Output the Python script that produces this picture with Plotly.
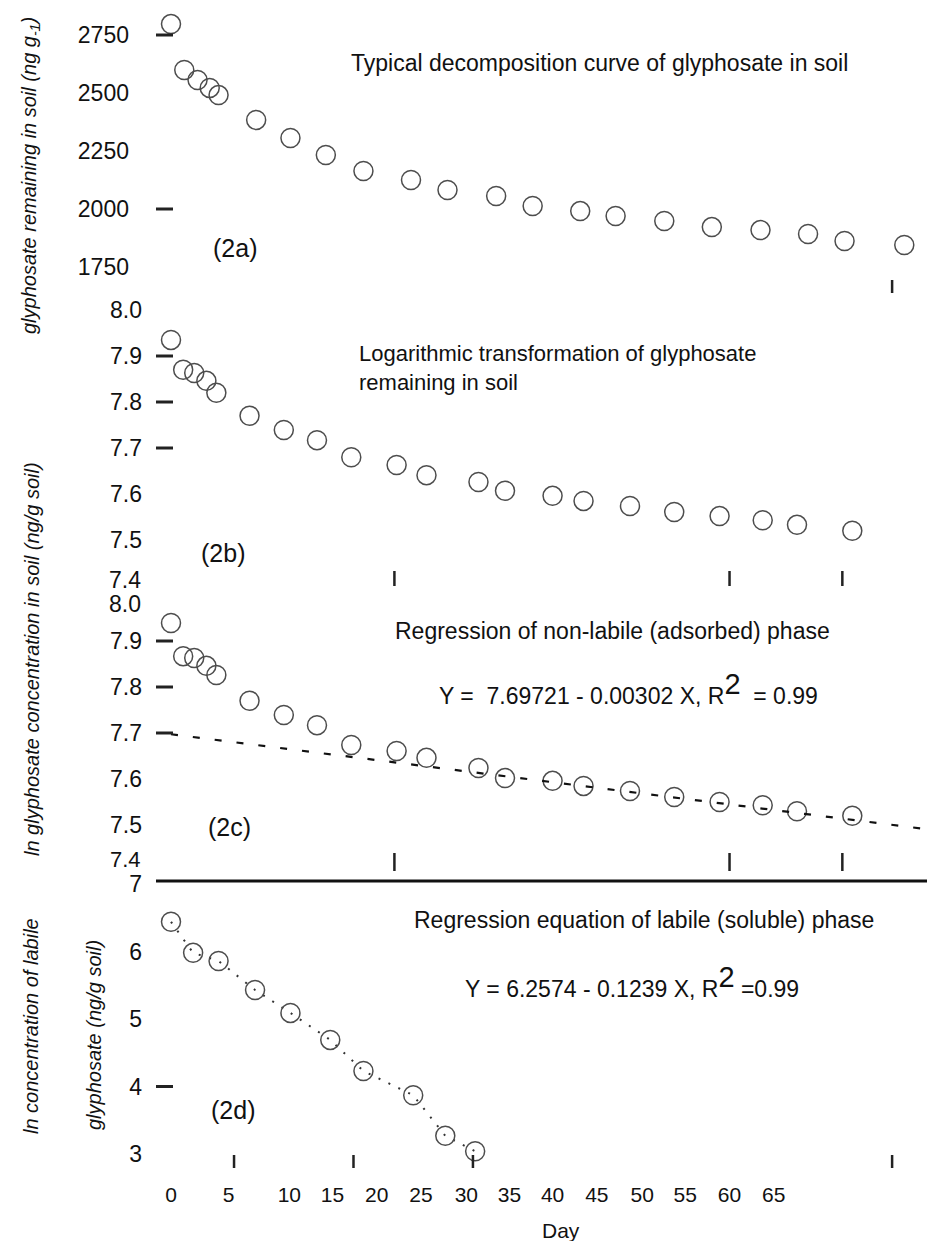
import plotly.graph_objects as go

# ---------------- data ----------------
# (2a) glyphosate remaining in soil, ng/g
days_a = [0, 1.2, 2.4, 3.5, 4.3, 7.7, 10.8, 14.0, 17.4, 21.7, 25.0, 29.4, 32.7,
          37.0, 40.2, 44.6, 48.9, 53.3, 57.6, 60.9, 66.3]
remaining_a = [2797, 2599, 2556, 2522, 2491, 2384, 2306, 2233, 2164, 2125, 2082,
               2056, 2013, 1991, 1970, 1948, 1922, 1909, 1892, 1862, 1845]

# (2b) / (2c) ln of glyphosate concentration
days_bc = [0, 1.1, 2.1, 3.2, 4.1, 7.1, 10.2, 13.2, 16.3, 20.4, 23.1, 27.8, 30.2,
           34.5, 37.3, 41.5, 45.5, 49.6, 53.5, 56.6, 61.6]
ln_b = [7.935, 7.870, 7.863, 7.846, 7.820, 7.770, 7.739, 7.717, 7.680, 7.663, 7.641,
        7.626, 7.607, 7.596, 7.585, 7.574, 7.561, 7.552, 7.543, 7.533, 7.520]
ln_c = [7.939, 7.867, 7.863, 7.846, 7.826, 7.770, 7.739, 7.717, 7.674, 7.661, 7.646,
        7.624, 7.602, 7.596, 7.585, 7.574, 7.561, 7.550, 7.543, 7.530, 7.520]

# (2d) ln of labile glyphosate
days_d = [0, 2.0, 4.3, 7.6, 10.8, 14.4, 17.4, 21.9, 24.8, 27.5]
ln_d = [6.44, 5.98, 5.86, 5.43, 5.09, 4.69, 4.23, 3.87, 3.27, 3.04]

# regression of the non-labile phase (from the printed equation)
nonlabile_intercept = 7.69721
nonlabile_slope = -0.00302
fit_days_c = [0, 69]
fit_ln_c = [nonlabile_intercept + nonlabile_slope * d for d in fit_days_c]

# tick labels
ticks_a = [1750, 2000, 2250, 2500, 2750]
ticks_b = [7.5, 7.6, 7.7, 7.8, 7.9, 8.0]
ticks_c = [7.5, 7.6, 7.7, 7.8, 7.9]
ticks_d = [3, 4, 5, 6, 7]
day_labels = ["0", "5", "10", "15", "20", "25", "30", "35", "40", "45", "50",
              "55", "60", "65"]

# ---------------- layout helpers ----------------
W, H = 935, 1241
ML, MB = 160, 81
PW, PH = W - ML, H - MB
FONT = "Liberation Sans, Arial, sans-serif"
INK = "#111111"


def px_x(px):
    return (px - ML) / PW


def px_y(py):
    return (PH - py) / PH


x_range = [(ML - 163) / 11.06, (W - 163) / 11.06]

marker = dict(symbol="circle-open", size=19, color="#4d4d4d",
              line=dict(width=1.5, color="#4d4d4d"))

fig = go.Figure()
fig.add_trace(go.Scatter(x=days_a, y=remaining_a, mode="markers", marker=marker,
                         xaxis="x", yaxis="y", cliponaxis=False))
fig.add_trace(go.Scatter(x=days_bc, y=ln_b, mode="markers", marker=marker,
                         xaxis="x2", yaxis="y2", cliponaxis=False))
fig.add_trace(go.Scatter(x=days_bc, y=ln_c, mode="markers", marker=marker,
                         xaxis="x3", yaxis="y3", cliponaxis=False))
fig.add_trace(go.Scatter(x=fit_days_c, y=fit_ln_c, mode="lines",
                         line=dict(color=INK, width=2.2, dash="7px,15px"),
                         xaxis="x3", yaxis="y3"))
fig.add_trace(go.Scatter(x=days_d, y=ln_d, mode="lines+markers", marker=marker,
                         line=dict(color="#333333", width=2, dash="2px,9px"),
                         xaxis="x4", yaxis="y4", cliponaxis=False))

# panel geometry in pixels (top, bottom)
panels = {"a": (0, 285), "b": (285, 578), "c": (578, 863), "d": (873, 1160)}


def dom(key):
    t, b = panels[key]
    return [max(0, px_y(b)), min(1, px_y(t))]


base_x = dict(range=x_range, showgrid=False, zeroline=False, showline=False,
              showticklabels=False, ticks="", automargin=False)
base_y = dict(showgrid=False, zeroline=False, showline=False, ticks="",
              automargin=False,
              tickfont=dict(family=FONT, size=23, color=INK))

layout = dict(
    width=W, height=H, showlegend=False,
    margin=dict(l=ML, r=0, t=0, b=MB, pad=0, autoexpand=False),
    paper_bgcolor="white", plot_bgcolor="white",
    font=dict(family=FONT, color=INK),
    xaxis=dict(base_x, anchor="y", domain=[0, 1]),
    xaxis2=dict(base_x, anchor="y2", domain=[0, 1]),
    xaxis3=dict(base_x, anchor="y3", domain=[0, 1]),
    xaxis4=dict(base_x, anchor="y4", domain=[0, 1], showticklabels=True,
                tickvals=[0, 5.2, 10.7, 14.6, 18.6, 22.6, 26.7, 30.6, 34.5, 38.5,
                          42.6, 46.5, 50.5, 54.5],
                ticktext=day_labels, ticklabelstandoff=12,
                tickfont=dict(family=FONT, size=21, color=INK)),
    yaxis=dict(base_y, anchor="x", domain=dom("a"),
               range=[2750 - (285 - 27) * 250 / 58, 2750 + 27 * 250 / 58],
               tickvals=ticks_a, ticklabelstandoff=38),
    yaxis2=dict(base_y, anchor="x2", domain=dom("b"),
                range=[7.4, 7.9 + (348 - 285) / 460], tickvals=ticks_b,
                tickformat=".1f", ticklabelstandoff=25),
    yaxis3=dict(base_y, anchor="x3", domain=dom("c"),
                range=[7.4, 7.7 + (725 - 578) / 460], tickvals=ticks_c,
                tickformat=".1f", ticklabelstandoff=25),
    yaxis4=dict(base_y, anchor="x4", domain=dom("d"),
                range=[7 - (1160 - 876) / 67.5, 7 + 3 / 67.5], tickvals=ticks_d,
                ticklabelstandoff=25),
)
fig.update_layout(**layout)

# ---------------- decorations: stray tick marks ----------------
shapes = []
left_marks = [("y", 2750), ("y", 2000), ("y2", 7.9), ("y2", 7.8), ("y2", 7.7),
              ("y3", 7.9), ("y3", 7.8), ("y3", 7.7), ("y4", 4)]
for yref, val in left_marks:
    shapes.append(dict(type="line", xref="paper", yref=yref,
                       x0=px_x(148), x1=px_x(165), y0=val, y1=val,
                       line=dict(color="#222222", width=3)))

bottom_marks = {"a": ("x", [65.2], 13), "b": ("x2", [20.2, 50.5, 60.7], 15),
                "c": ("x3", [20.2, 50.5, 60.7], 18),
                "d": ("x4", [5.7, 16.5, 27.3, 65.2], 13)}
for key, (xref, vals, ln) in bottom_marks.items():
    t, b = panels[key]
    yref = ("y" + xref[1:]) + " domain"
    for v in vals:
        shapes.append(dict(type="line", xref=xref, yref=yref, x0=v, x1=v,
                           y0=0, y1=ln / (b - t),
                           line=dict(color="#222222", width=2.5)))

# thick separator between (2c) and (2d)
shapes.append(dict(type="line", xref="paper", yref="y4 domain",
                   x0=px_x(148), x1=1, y0=1, y1=1,
                   line=dict(color=INK, width=3)))
fig.update_layout(shapes=shapes)

# ---------------- texts ----------------
sup2 = "<sup><span style='font-size:29px'>2</span></sup>"
ann = [
    dict(text="Typical decomposition curve of glyphosate in soil", px=591, py=55, size=23),
    dict(text="(2a)", px=227, py=240, size=25),
    dict(text="Logarithmic transformation of glyphosate<br>remaining in soil",
         px=349, py=360, size=22, xanchor="left", align="left"),
    dict(text="(2b)", px=215, py=545, size=25),
    dict(text="Regression of non-labile (adsorbed) phase", px=604, py=623, size=23),
    dict(text="Y = &nbsp;7.69721 - 0.00302 X, R" + sup2 + " &nbsp;= 0.99",
         px=620, py=680, size=23),
    dict(text="(2c)", px=221, py=819, size=25),
    dict(text="Regression equation of labile (soluble) phase", px=636, py=912, size=23),
    dict(text="Y = 6.2574 - 0.1239 X, R" + sup2 + " =0.99", px=624, py=973, size=23),
    dict(text="(2d)", px=225, py=1102, size=25),
    dict(text="Day", px=553, py=1222, size=21),
]
annotations = []
for a in ann:
    annotations.append(dict(
        text=a["text"], xref="paper", yref="paper", x=px_x(a["px"]), y=px_y(a["py"]),
        xanchor=a.get("xanchor", "center"), yanchor="middle",
        align=a.get("align", "center"), showarrow=False,
        font=dict(family=FONT, size=a["size"], color=INK)))

# edge tick labels that sit slightly off their ticks in the original
edge_labels = [("7.4", 572, 23), ("8.0", 596, 23), ("7.4", 851, 22)]
for text, py, size in edge_labels:
    annotations.append(dict(
        text=text, xref="paper", yref="paper", x=px_x(135), y=px_y(py),
        xanchor="right", yanchor="middle", showarrow=False,
        font=dict(family=FONT, size=size, color=INK)))

ytitles = [
    ("glyphosate remaining in soil (ng g<sub>-1</sub>)", 23, 168),
    ("ln glyphosate concentration in soil (ng/g soil)", 24, 651),
    ("ln concentration of labile", 23, 1018),
    ("glyphosate (ng/g soil)", 86, 1027),
]
for text, px, py in ytitles:
    annotations.append(dict(
        text=text, xref="paper", yref="paper", x=px_x(px), y=px_y(py),
        xanchor="center", yanchor="middle", textangle=-90, showarrow=False,
        font=dict(family=FONT, size=20, color=INK, style="italic")))

fig.update_layout(annotations=annotations)

fig.write_html("out.html")
